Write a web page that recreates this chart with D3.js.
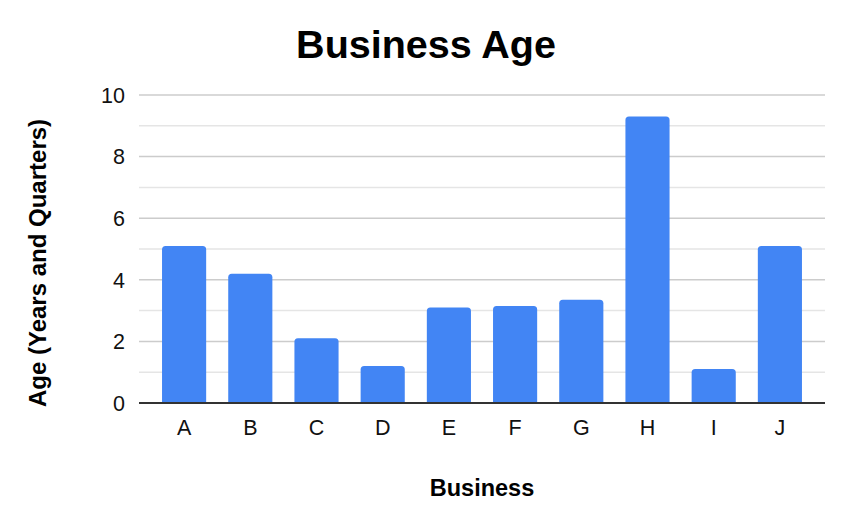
<!DOCTYPE html>
<html><head><meta charset="utf-8">
<script src="https://cdn.jsdelivr.net/npm/d3@7"></script>
<style>body{margin:0;background:#fff}svg{display:block}text{font-family:"Liberation Sans",Arial,sans-serif}</style>
</head><body><svg id="c" width="852" height="526"></svg>
<script>
const categories = ["A","B","C","D","E","F","G","H","I","J"];
const values = [5.1, 4.2, 2.1, 1.2, 3.1, 3.15, 3.35, 9.3, 1.1, 5.1];
const yTicks = [0, 2, 4, 6, 8, 10];
const yMinor = [1, 3, 5, 7, 9];
const title = "Business Age";
const xTitle = "Business";
const yTitle = "Age (Years and Quarters)";

const svg = d3.select("#c");
const plotL = 139, plotR = 825, y0 = 403, y1 = 95;
const x = d3.scaleBand().domain(categories).range([151, 813]).paddingInner(1/3).paddingOuter(1/6);
const y = d3.scaleLinear().domain([0, 10]).range([y0, y1]);

svg.append("g").selectAll("line").data(yMinor).join("line")
  .attr("x1", plotL).attr("x2", plotR).attr("y1", d => y(d)).attr("y2", d => y(d))
  .attr("stroke", "#e5e5e5").attr("stroke-width", 1.5);
svg.append("g").selectAll("line").data(yTicks.filter(d => d > 0)).join("line")
  .attr("x1", plotL).attr("x2", plotR).attr("y1", d => y(d)).attr("y2", d => y(d))
  .attr("stroke", "#cccccc").attr("stroke-width", 1.5);

const r = 3.5;
svg.append("g").selectAll("path").data(values).join("path")
  .attr("fill", "#4285f4")
  .attr("d", (d, i) => {
    const bx = x(categories[i]), w = x.bandwidth(), top = y(d), bot = y(0);
    return `M${bx},${bot}V${top + r}Q${bx},${top} ${bx + r},${top}H${bx + w - r}Q${bx + w},${top} ${bx + w},${top + r}V${bot}Z`;
  });

svg.append("line").attr("x1", plotL).attr("x2", plotR).attr("y1", y(0)).attr("y2", y(0))
  .attr("stroke", "#333").attr("stroke-width", 2);

svg.append("g").selectAll("text").data(yTicks).join("text")
  .attr("x", 125).attr("y", d => y(d)).attr("dy", "0.36em").attr("text-anchor", "end")
  .attr("font-size", 21.5).attr("fill", "#111").text(d => d);

svg.append("g").selectAll("text").data(categories).join("text")
  .attr("x", d => x(d) + x.bandwidth() / 2).attr("y", 435).attr("text-anchor", "middle")
  .attr("font-size", 21.5).attr("fill", "#111").text(d => d);

svg.append("text").attr("x", 426).attr("y", 58).attr("text-anchor", "middle")
  .attr("font-size", 39.5).attr("font-weight", "bold").attr("fill", "#000").text(title);
svg.append("text").attr("x", 482).attr("y", 496).attr("text-anchor", "middle")
  .attr("font-size", 23.5).attr("font-weight", "bold").attr("fill", "#000").text(xTitle);
svg.append("text").attr("transform", `translate(46,${(y0 + y1) / 2 + 14}) rotate(-90)`).attr("text-anchor", "middle")
  .attr("font-size", 24).attr("font-weight", "bold").attr("fill", "#000").text(yTitle);
</script></body></html>
